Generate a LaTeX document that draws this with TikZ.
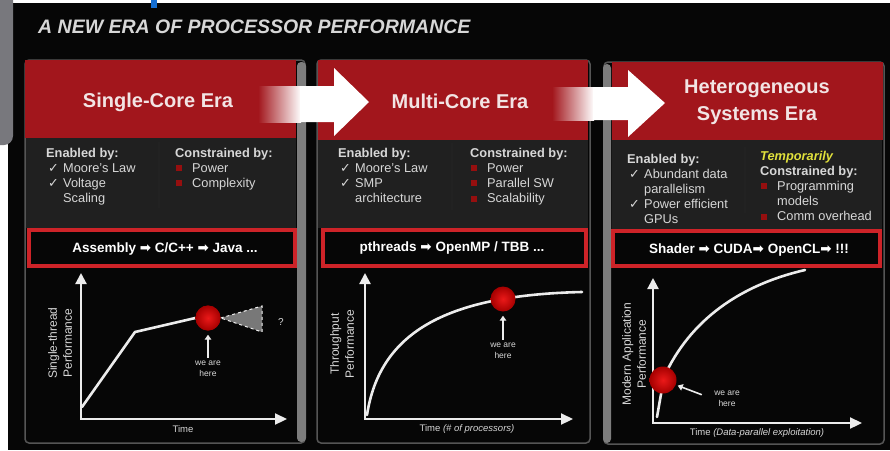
\documentclass[tikz,border=0pt]{standalone}
\usepackage{fontspec}
\setmainfont{Liberation Sans}
\newfontfamily\dejavu{DejaVu Sans}
\usetikzlibrary{arrows.meta}
\definecolor{bgblack}{RGB}{6,6,6}
\definecolor{hdrred}{RGB}{162,22,28}
\definecolor{hdrtext}{RGB}{242,228,228}
\definecolor{bodygray}{RGB}{32,32,32}
\definecolor{txtgray}{RGB}{215,215,215}
\definecolor{boxred}{RGB}{205,35,40}
\definecolor{pborder}{RGB}{85,85,85}
\definecolor{stripgray}{RGB}{125,125,125}
\definecolor{linewhite}{RGB}{236,236,236}
\definecolor{dotin}{RGB}{235,25,25}
\definecolor{dotout}{RGB}{165,0,0}
\definecolor{bulred}{RGB}{150,15,15}
\definecolor{tempyel}{RGB}{225,225,60}
\definecolor{conegray}{RGB}{120,120,120}
\definecolor{leftgray}{RGB}{120,120,125}
\definecolor{topblue}{RGB}{20,110,210}
\newcommand\chk{\makebox[17pt][l]{\hspace{2pt}{\dejavu ✓}}}
\newcommand\rbul{\makebox[17pt][l]{\hspace{1pt}\textcolor{bulred}{\rule[1pt]{6pt}{6pt}}}}
\newcommand\ind{\hspace*{17pt}}
\newcommand\rarr{{\dejavu\bfseries ➡}}
\tikzset{
 hdrst/.style={fill=hdrred},
 hdrtxt/.style={text=hdrtext, font=\fontsize{20}{27}\selectfont\bfseries, align=center},
 bodyst/.style={fill=bodygray},
 txt/.style={text=txtgray, font=\fontsize{12.8}{15.2}\selectfont, inner sep=0pt, anchor=base west},
 rbox/.style={draw=boxred, line width=3.5pt, fill=bgblack},
 rtxt/.style={text=white, font=\fontsize{13.5}{15}\selectfont\bfseries},
 axisst/.style={draw=linewhite, line width=2.2pt, {Triangle[length=11pt,width=11pt]}-{Triangle[length=12pt,width=11pt]}},
 curvest/.style={draw=linewhite, line width=2.6pt, line cap=round, line join=round},
 dotst/.style={circle, minimum size=25pt, inner sep=0pt, shade, inner color=dotin, outer color=dotout},
 smalllab/.style={text=txtgray, font=\fontsize{8.5}{11}\selectfont, align=center, inner sep=1pt},
 axlab/.style={text=txtgray, font=\fontsize{9.5}{11}\selectfont},
 ylab/.style={text=txtgray, font=\fontsize{12}{15}\selectfont, align=center, rotate=90},
 arr/.style={draw=linewhite, line width=1.6pt, -{Triangle[length=5pt,width=6.5pt]}},
 panelst/.style={draw=pborder, line width=1.5pt, fill=bgblack, rounded corners=4pt},
}
\begin{document}
\begin{tikzpicture}[x=1pt,y=-1pt]
\useasboundingbox (0,0) rectangle (890,450);
\clip (0,0) rectangle (890,450);
% background
\fill[white] (0,0) rectangle (890,450);
\fill[bgblack] (8,3) rectangle (890,450);
\fill[leftgray, rounded corners=9pt] (-20,-20) rectangle (13,145);
\fill[topblue] (151,0) rectangle (157,8);

% title
\node[anchor=base west, inner sep=0pt, text=txtgray, font=\fontsize{19.5}{22}\selectfont\bfseries\itshape] (title) at (38,33) {A NEW ERA OF PROCESSOR PERFORMANCE};

% ---------------- panels
\draw[panelst] (25,60) rectangle (305,443);
\fill[stripgray, rounded corners=4pt] (297,62) rectangle (306,442);
\draw[panelst] (317,60) rectangle (590,443);
\draw[panelst] (604,62) rectangle (884,444);
\fill[stripgray, rounded corners=4pt] (603,64) rectangle (611,443);

% headers
\fill[hdrst] (25,60) rectangle (296,138);
\fill[hdrst] (318,60) rectangle (588,140);
\fill[hdrst] (612,62) rectangle (883,140);
% bodies
\fill[bodyst] (26,138) rectangle (296,228);
\fill[bodyst] (318,140) rectangle (588,228);
\fill[bodyst] (612,140) rectangle (882,230);

% arrows between headers
\shade[left color=hdrred, right color=white] (258,86) rectangle (301,122);
\fill[white] (300,86) -- (334,86) -- (334,68) -- (369,102) -- (334,136) -- (334,122) -- (300,122) -- cycle;
\shade[left color=hdrred, right color=white] (552,87) rectangle (594,120);
\fill[white] (593,87) -- (628,87) -- (628,70) -- (665,103) -- (628,137) -- (628,120) -- (593,120) -- cycle;

% header texts
\node[hdrtxt] (h1) at (158,102) {Single-Core Era};
\node[hdrtxt] (h2) at (460,101) {Multi-Core Era};
\node[hdrtxt] (h3) at (757,102) {Heterogeneous\\Systems Era};

% panel 1 body text
\node[txt] (p1en) at (46,157) {\begin{tabular}[t]{@{}l@{}}\textbf{Enabled by:}\\ \chk Moore's Law\\ \chk Voltage\\ \ind Scaling\end{tabular}};
\node[txt] (p1co) at (175,157) {\begin{tabular}[t]{@{}l@{}}\textbf{Constrained by:}\\ \rbul Power\\ \rbul Complexity\end{tabular}};
\draw[pborder!130, line width=1.5pt] (159,142) -- (159,208);

% panel 2 body text
\node[txt] (p2en) at (338,157) {\begin{tabular}[t]{@{}l@{}}\textbf{Enabled by:}\\ \chk Moore's Law\\ \chk SMP\\ \ind architecture\end{tabular}};
\node[txt] (p2co) at (470,157) {\begin{tabular}[t]{@{}l@{}}\textbf{Constrained by:}\\ \rbul Power\\ \rbul Parallel SW\\ \rbul Scalability\end{tabular}};
\draw[pborder!130, line width=1.5pt] (452,143) -- (452,210);

% panel 3 body text
\node[txt] (p3en) at (627,163) {\begin{tabular}[t]{@{}l@{}}\textbf{Enabled by:}\\ \chk Abundant data\\ \ind parallelism\\ \chk Power efficient\\ \ind GPUs\end{tabular}};
\node[txt] (p3co) at (760,160) {\begin{tabular}[t]{@{}l@{}}\textcolor{tempyel}{\textbf{\textit{Temporarily}}}\\ \textbf{Constrained by:}\\ \rbul Programming\\ \ind models\\ \rbul Comm overhead\end{tabular}};
\draw[pborder!130, line width=1.5pt] (745,147) -- (745,213);

% red boxes
\draw[rbox] (29,230) rectangle (295,266);
\node[rtxt] (b1) at (165,249) {Assembly \rarr{} C/C++ \rarr{} Java ...};
\draw[rbox] (323,230) rectangle (586,266);
\node[rtxt] (b2) at (452,248) {pthreads \rarr{} OpenMP / TBB ...};
\draw[rbox] (613,231) rectangle (880,266);
\node[rtxt] (b3) at (749,250) {Shader \rarr{} CUDA\rarr{} OpenCL\rarr{} !!!};

% ---------------- graph 1
\coordinate (y1) at (81,273);
\coordinate (o1) at (81,419);
\coordinate (x1) at (287,419);
\draw[axisst] (y1) -- (o1) -- (x1);
\node[dotst] (d1) at (208,318) {};
\coordinate (c1a) at (82,407);
\coordinate (c1b) at (135,332);
\draw[curvest] (c1a) -- (c1b) -- (d1.west);
\draw[draw=linewhite!80, fill=conegray, dashed, line width=1pt] (d1.east) -- (262,306) -- (262,332) -- cycle;
\node[dotst] at (d1) {};
\node[text=txtgray, font=\fontsize{10}{12}\selectfont] (q1) at (281,322) {?};
\node[smalllab] (w1) at (208,369) {we are\\here};
\draw[arr, shorten <=2pt, shorten >=4pt] (w1.north) -- (d1.south);
\node[ylab] (l1) at (60,343) {Single-thread\\Performance};
\node[axlab] (t1) at (183,429) {Time};

% ---------------- graph 2
\coordinate (y2) at (365,273);
\coordinate (o2) at (365,419);
\coordinate (x2) at (573,419);
\draw[axisst] (y2) -- (o2) -- (x2);
\coordinate (c2a) at (367,415);
\coordinate (c2b) at (582,292);
\draw[curvest] (c2a) .. controls (380,330) and (450,295) .. (c2b);
\node[dotst] (d2) at (503,299) {};
\node[smalllab] (w2) at (503,351) {we are\\here};
\draw[arr, shorten <=2pt, shorten >=4pt] (w2.north) -- (d2.south);
\node[ylab] (l2) at (342,344) {Throughput\\Performance};
\node[axlab] (t2) at (467,429) {Time \textit{(\# of processors)}};

% ---------------- graph 3
\coordinate (y3) at (653,278);
\coordinate (o3) at (653,423);
\coordinate (x3) at (862,423);
\draw[axisst] (y3) -- (o3) -- (x3);
\coordinate (c3a) at (657,417);
\coordinate (c3b) at (664,377);
\coordinate (c3c) at (805,270);
\draw[curvest] (c3a) -- (c3b) .. controls (690,320) and (740,285) .. (c3c);
\node[dotst, minimum size=27pt] (d3) at (663,380) {};
\node[smalllab] (w3) at (727,399) {we are\\here};
\draw[arr, shorten <=12pt, shorten >=2pt] (w3.west) -- (d3);
\node[ylab] (l3) at (634,354) {Modern Application\\Performance};
\node[axlab] (t3) at (757,433) {Time \textit{(Data-parallel exploitation)}};
\end{tikzpicture}
\end{document}
